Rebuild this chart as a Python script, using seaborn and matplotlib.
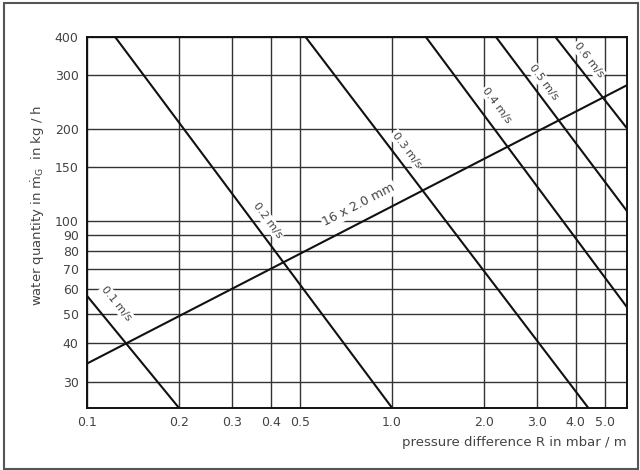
import numpy as np
import pandas as pd
import matplotlib
matplotlib.use("Agg")
import matplotlib.pyplot as plt
from matplotlib.patches import Rectangle
from matplotlib.ticker import NullLocator
import seaborn as sns

# ---- data ----
x_ticks = [0.1, 0.2, 0.3, 0.4, 0.5, 1.0, 2.0, 3.0, 4.0, 5.0]
x_tick_labels = ["0.1", "0.2", "0.3", "0.4", "0.5", "1.0", "2.0", "3.0", "4.0", "5.0"]
y_ticks = [30, 40, 50, 60, 70, 80, 90, 100, 150, 200, 300, 400]

# pipe characteristic 16 x 2.0 mm
pipe_R = [0.1, 5.9]
pipe_q = [34.4, 278]
pipe_label = "16 x 2.0 mm"
pipe_label_pos = (0.78, 113)

# constant velocity lines (start / end of each line)
vel_labels = ["0.1 m/s", "0.2 m/s", "0.3 m/s", "0.4 m/s", "0.5 m/s", "0.6 m/s"]
vel_R_start = [0.1, 0.1235, 0.52, 1.29, 2.19, 3.43]
vel_q_start = [57.2, 400, 400, 400, 400, 400]
vel_R_end = [0.2, 1.0, 4.4, 5.9, 5.9, 5.9]
vel_q_end = [24.7, 24.7, 24.7, 52.5, 108, 201]
vel_label_R = [0.125, 0.39, 1.116, 2.21, 3.15, 4.41]
vel_label_q = [54, 101, 171, 239, 284, 336]

# ---- build a long table for seaborn ----
rows = []
for i, lab in enumerate(vel_labels):
    rows.append({"R": vel_R_start[i], "q": vel_q_start[i], "line": lab})
    rows.append({"R": vel_R_end[i], "q": vel_q_end[i], "line": lab})
for r, q in zip(pipe_R, pipe_q):
    rows.append({"R": r, "q": q, "line": pipe_label})
df = pd.DataFrame(rows)

sns.set_style("white")
plt.rcParams["font.family"] = ["DejaVu Sans"]
plt.rcParams["mathtext.fontset"] = "custom"
plt.rcParams["mathtext.rm"] = "DejaVu Sans"
plt.rcParams["mathtext.it"] = "DejaVu Sans"

fig = plt.figure(figsize=(6.4, 4.7), dpi=100)
ax = fig.add_axes([87 / 640, 62.3 / 470, 540 / 640, 371 / 470])

ax.set_xscale("log")
ax.set_yscale("log")
ax.set_xlim(0.1, 5.9)
ax.set_ylim(24.7, 400)

palette = {lab: "#111111" for lab in df["line"].unique()}
sns.lineplot(data=df, x="R", y="q", hue="line", palette=palette, sort=False,
             estimator=None, legend=False, linewidth=1.5, ax=ax, zorder=4)

# ticks & grid
ax.set_xticks(x_ticks)
ax.set_xticklabels(x_tick_labels)
ax.set_yticks(y_ticks)
ax.set_yticklabels([str(v) for v in y_ticks])
ax.xaxis.set_minor_locator(NullLocator())
ax.yaxis.set_minor_locator(NullLocator())
ax.tick_params(length=0, labelsize=9, labelcolor="#444444", pad=6)
ax.grid(True, which="major", color="#333333", linewidth=1.0, zorder=1)
ax.set_axisbelow(True)
for s in ax.spines.values():
    s.set_color("#111111")
    s.set_linewidth(1.4)

ax.set_xlabel("pressure difference R in mbar / m", fontsize=9.5, color="#444444")
ax.xaxis.set_label_coords(1.0, -0.095)
ax.xaxis.label.set_ha("right")
ax.xaxis.label.set_va("center")
ax.set_ylabel(r"water quantity in $\dot{m}_{\mathrm{G}}$  in kg / h", fontsize=9.5, color="#444444")
ax.yaxis.set_label_coords(-0.091, 0.546)
ax.yaxis.label.set_va("center")


def line_angle(xs, ys):
    p = ax.transData.transform(np.column_stack([xs, ys]))
    d = p[-1] - p[0]
    return np.degrees(np.arctan2(d[1], d[0]))


box = dict(facecolor="white", edgecolor="none", pad=1.0)
for i, lab in enumerate(vel_labels):
    ang = line_angle([vel_R_start[i], vel_R_end[i]], [vel_q_start[i], vel_q_end[i]])
    ax.text(vel_label_R[i], vel_label_q[i], lab, rotation=ang, rotation_mode="anchor",
            ha="center", va="center", fontsize=8, color="#444444", bbox=box, zorder=3)

ang = line_angle(pipe_R, pipe_q)
ax.text(pipe_label_pos[0], pipe_label_pos[1], pipe_label, rotation=ang, rotation_mode="anchor",
        ha="center", va="center", fontsize=9, color="#444444", bbox=box, zorder=3)

# outer frame of the figure
fig.patches.append(Rectangle((4 / 640, 1 / 470), 634 / 640, 466 / 470, transform=fig.transFigure,
                             fill=False, edgecolor="#555555", linewidth=1.5))

fig.savefig("out.png", dpi=100)
